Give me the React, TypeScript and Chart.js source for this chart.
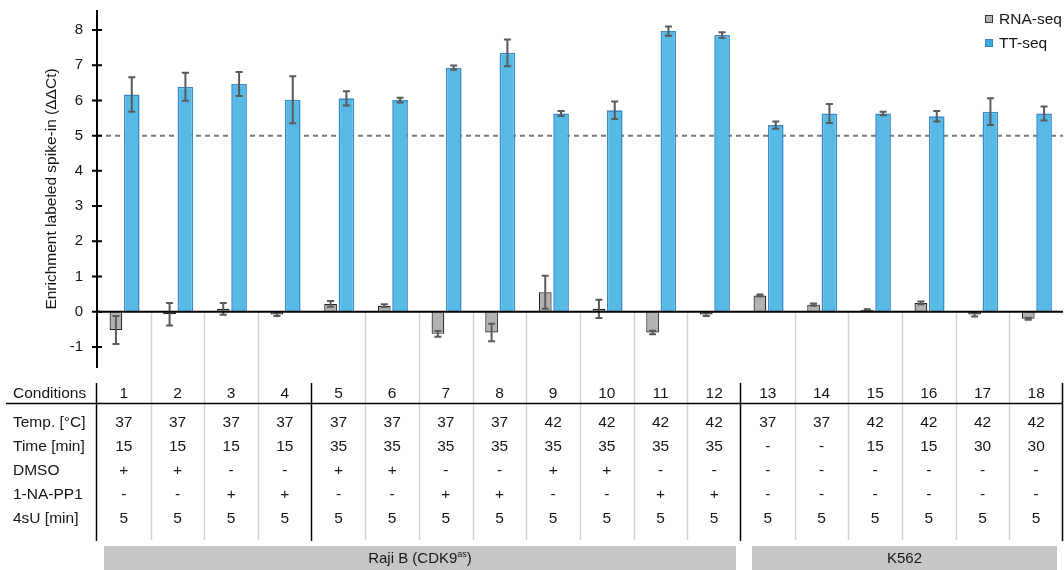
import { useEffect, useRef } from "react";
import { Chart, registerables } from "chart.js";

Chart.register(...registerables);

// Conditions on the x axis
const conditions = ["1", "2", "3", "4", "5", "6", "7", "8", "9", "10", "11", "12", "13", "14", "15", "16", "17", "18"];

// Enrichment of the labeled spike-in (ΔΔCt), mean and error
const rnaSeq = [-0.52, -0.07, 0.08, -0.08, 0.22, 0.17, -0.63, -0.59, 0.55, 0.08, -0.59, -0.08, 0.46, 0.2, 0.05, 0.25, -0.08, -0.2];
const rnaSeqErr = [0.4, 0.32, 0.17, 0.04, 0.08, 0.04, 0.08, 0.25, 0.47, 0.26, 0.05, 0.04, 0.03, 0.03, 0.02, 0.04, 0.06, 0.03];
const ttSeq = [6.17, 6.39, 6.47, 6.02, 6.06, 6.01, 6.93, 7.35, 5.63, 5.72, 7.97, 7.86, 5.3, 5.63, 5.63, 5.55, 5.68, 5.63];
const ttSeqErr = [0.49, 0.4, 0.34, 0.67, 0.2, 0.07, 0.06, 0.38, 0.07, 0.25, 0.13, 0.08, 0.1, 0.27, 0.05, 0.15, 0.38, 0.2];

const threshold = 5;
const yTicks = [-1, 0, 1, 2, 3, 4, 5, 6, 7, 8];

// Experimental set-up table below the plot
const temperature = ["37", "37", "37", "37", "37", "37", "37", "37", "42", "42", "42", "42", "37", "37", "42", "42", "42", "42"];
const timeMin = ["15", "15", "15", "15", "35", "35", "35", "35", "35", "35", "35", "35", "-", "-", "15", "15", "30", "30"];
const dmso = ["+", "+", "-", "-", "+", "+", "-", "-", "+", "+", "-", "-", "-", "-", "-", "-", "-", "-"];
const naPP1 = ["-", "-", "+", "+", "-", "-", "+", "+", "-", "-", "+", "+", "-", "-", "-", "-", "-", "-"];
const fourSU = ["5", "5", "5", "5", "5", "5", "5", "5", "5", "5", "5", "5", "5", "5", "5", "5", "5", "5"];
const rowLabels = ["Temp. [°C]", "Time [min]", "DMSO", "1-NA-PP1", "4sU [min]"];
const rows = [temperature, timeMin, dmso, naPP1, fourSU];
const groupBreaks = [0, 4, 12, 18];

const FONT = "'Liberation Sans', Arial, sans-serif";
const TEXT = "#161616";

const decor = {
  id: "decor",
  beforeDatasetsDraw(chart: any) {
    const { ctx, chartArea, scales } = chart;
    const y = scales.y;
    const n = conditions.length;
    const colW = (chartArea.right - chartArea.left) / n;
    const zeroY = y.getPixelForValue(0);

    ctx.save();
    // light column separators below the baseline, running into the table
    ctx.strokeStyle = "#d2d2d2";
    ctx.lineWidth = 1.5;
    for (let i = 1; i < n; i++) {
      if (groupBreaks.includes(i)) continue;
      const bx = Math.round(chartArea.left + i * colW) + 0.5;
      ctx.beginPath();
      ctx.moveTo(bx, zeroY);
      ctx.lineTo(bx, 540);
      ctx.stroke();
    }
    // threshold line
    const ty = y.getPixelForValue(threshold);
    ctx.strokeStyle = "#7a7a7a";
    ctx.lineWidth = 2;
    ctx.setLineDash([5, 4]);
    ctx.beginPath();
    ctx.moveTo(chartArea.left, ty);
    ctx.lineTo(chartArea.right, ty);
    ctx.stroke();
    ctx.restore();
  },
  afterDatasetsDraw(chart: any) {
    const { ctx, chartArea, scales } = chart;
    const y = scales.y;
    const errs = [rnaSeqErr, ttSeqErr];
    const vals = [rnaSeq, ttSeq];

    ctx.save();
    // error bars
    ctx.strokeStyle = "#5a5a5a";
    ctx.lineWidth = 2;
    [0, 1].forEach((d) => {
      const meta = chart.getDatasetMeta(d);
      meta.data.forEach((bar: any, i: number) => {
        const v = vals[d][i];
        const e = errs[d][i];
        const top = y.getPixelForValue(v + e);
        const bot = y.getPixelForValue(v - e);
        const cx = bar.x;
        ctx.beginPath();
        ctx.moveTo(cx, top);
        ctx.lineTo(cx, bot);
        ctx.moveTo(cx - 3.5, top);
        ctx.lineTo(cx + 3.5, top);
        ctx.moveTo(cx - 3.5, bot);
        ctx.lineTo(cx + 3.5, bot);
        ctx.stroke();
      });
    });

    // baseline at zero
    const zeroY = y.getPixelForValue(0);
    ctx.strokeStyle = "#000";
    ctx.lineWidth = 2;
    ctx.beginPath();
    ctx.moveTo(chartArea.left, zeroY);
    ctx.lineTo(chartArea.right, zeroY);
    ctx.stroke();

    // y axis line with crossing tick marks
    ctx.beginPath();
    ctx.moveTo(chartArea.left, chartArea.top);
    ctx.lineTo(chartArea.left, chartArea.bottom);
    yTicks.forEach((t) => {
      const py = y.getPixelForValue(t);
      ctx.moveTo(chartArea.left - 5, py);
      ctx.lineTo(chartArea.left + 5, py);
    });
    ctx.stroke();
    ctx.restore();
  },
  afterDraw(chart: any) {
    const { ctx, chartArea } = chart;
    const n = conditions.length;
    const colW = (chartArea.right - chartArea.left) / n;
    const colX = (i: number) => chartArea.left + (i + 0.5) * colW;
    const edgeX = (i: number) => chartArea.left + i * colW;

    ctx.save();
    ctx.fillStyle = TEXT;

    // y axis title
    ctx.save();
    ctx.translate(52, 189);
    ctx.rotate(-Math.PI / 2);
    ctx.font = `15.5px ${FONT}`;
    ctx.textAlign = "center";
    ctx.textBaseline = "middle";
    ctx.fillText("Enrichment labeled spike-in (ΔΔCt)", 0, 0);
    ctx.restore();

    // legend
    const legend = [
      { label: "RNA-seq", fill: "#b2b2b2", stroke: "#333333", y: 19 },
      { label: "TT-seq", fill: "#3fa9e4", stroke: "#2f86c6", y: 43 },
    ];
    ctx.font = `15.5px ${FONT}`;
    ctx.textAlign = "left";
    ctx.textBaseline = "middle";
    legend.forEach((it) => {
      ctx.fillStyle = it.fill;
      ctx.fillRect(985, it.y - 4, 8, 8);
      ctx.strokeStyle = it.stroke;
      ctx.lineWidth = 1;
      ctx.strokeRect(985.5, it.y - 3.5, 7, 7);
      ctx.fillStyle = TEXT;
      ctx.fillText(it.label, 999, it.y + 0.5);
    });

    // table: header row
    ctx.font = `15.5px ${FONT}`;
    ctx.textBaseline = "middle";
    ctx.textAlign = "left";
    ctx.fillText("Conditions", 13, 394);
    ctx.textAlign = "center";
    conditions.forEach((c, i) => ctx.fillText(c, colX(i), 394));

    // table: body rows
    const rowY = [423, 447, 471, 495, 518.5];
    rows.forEach((r, k) => {
      ctx.textAlign = "left";
      ctx.fillText(rowLabels[k], 13, rowY[k]);
      ctx.textAlign = "center";
      r.forEach((v, i) => ctx.fillText(v, colX(i), rowY[k]));
    });

    // table rules
    ctx.strokeStyle = "#000";
    ctx.lineWidth = 1.5;
    ctx.beginPath();
    ctx.moveTo(6, 403.5);
    ctx.lineTo(chartArea.right, 403.5);
    groupBreaks.forEach((b) => {
      const bx = Math.round(edgeX(b)) - 0.5;
      ctx.moveTo(bx, 383);
      ctx.lineTo(bx, 541);
    });
    ctx.stroke();

    // cell line groups
    const groups = [
      { from: 0, to: 12, padL: 7, padR: 5, label: "Raji B (CDK9", sup: "as", tail: ")" },
      { from: 12, to: 18, padL: 11, padR: 6, label: "K562", sup: "", tail: "" },
    ];
    groups.forEach((g) => {
      const x0 = edgeX(g.from) + g.padL;
      const x1 = edgeX(g.to) - g.padR;
      ctx.fillStyle = "#c6c6c6";
      ctx.fillRect(x0, 546, x1 - x0, 30);
      ctx.fillStyle = TEXT;
      ctx.textAlign = "left";
      ctx.textBaseline = "middle";
      ctx.font = `15px ${FONT}`;
      const w1 = ctx.measureText(g.label).width;
      const w3 = ctx.measureText(g.tail).width;
      ctx.font = `9px ${FONT}`;
      const w2 = ctx.measureText(g.sup).width;
      let tx = (x0 + x1) / 2 - (w1 + w2 + w3) / 2;
      ctx.font = `15px ${FONT}`;
      ctx.fillText(g.label, tx, 559);
      tx += w1;
      if (g.sup) {
        ctx.font = `9px ${FONT}`;
        ctx.fillText(g.sup, tx, 555);
        tx += w2;
        ctx.font = `15px ${FONT}`;
        ctx.fillText(g.tail, tx, 559);
      }
    });
    ctx.restore();
  },
};

export default function App() {
  const canvasRef = useRef<HTMLCanvasElement | null>(null);

  useEffect(() => {
    const canvas = canvasRef.current;
    if (!canvas) return;
    const chart = new Chart(canvas, {
      type: "bar",
      data: {
        labels: conditions,
        datasets: [
          {
            label: "RNA-seq",
            data: rnaSeq,
            backgroundColor: "#b2b2b2",
            borderColor: "#202020",
            borderWidth: 1.2,
            barPercentage: 0.8,
            categoryPercentage: 0.59,
          },
          {
            label: "TT-seq",
            data: ttSeq,
            backgroundColor: "#56b9e6",
            borderColor: "#3b8bcb",
            borderWidth: 1.6,
            barPercentage: 0.99,
            categoryPercentage: 0.59,
          },
        ],
      },
      options: {
        responsive: false,
        animation: false,
        devicePixelRatio: 1,
        layout: { padding: { left: 0, right: 1, top: 10, bottom: 202 } },
        plugins: { legend: { display: false }, tooltip: { enabled: false } },
        scales: {
          x: { display: false },
          y: {
            min: -1.6,
            max: 8.57,
            grid: { display: false, drawTicks: false },
            border: { display: false },
            ticks: {
              stepSize: 1,
              padding: 14,
              color: TEXT,
              font: { family: FONT, size: 15 },
            },
            afterBuildTicks: (s: any) => {
              s.ticks = yTicks.map((v) => ({ value: v }));
            },
            afterFit: (s: any) => {
              s.width = 97;
              s.paddingTop = 0;
              s.paddingBottom = 0;
            },
          },
        },
      },
      plugins: [decor],
    } as any);
    return () => chart.destroy();
  }, []);

  return (
    <div style={{ position: "absolute", left: 0, top: 0, width: 1064, height: 570, background: "#fff" }}>
      <canvas ref={canvasRef} width={1064} height={570} />
    </div>
  );
}
